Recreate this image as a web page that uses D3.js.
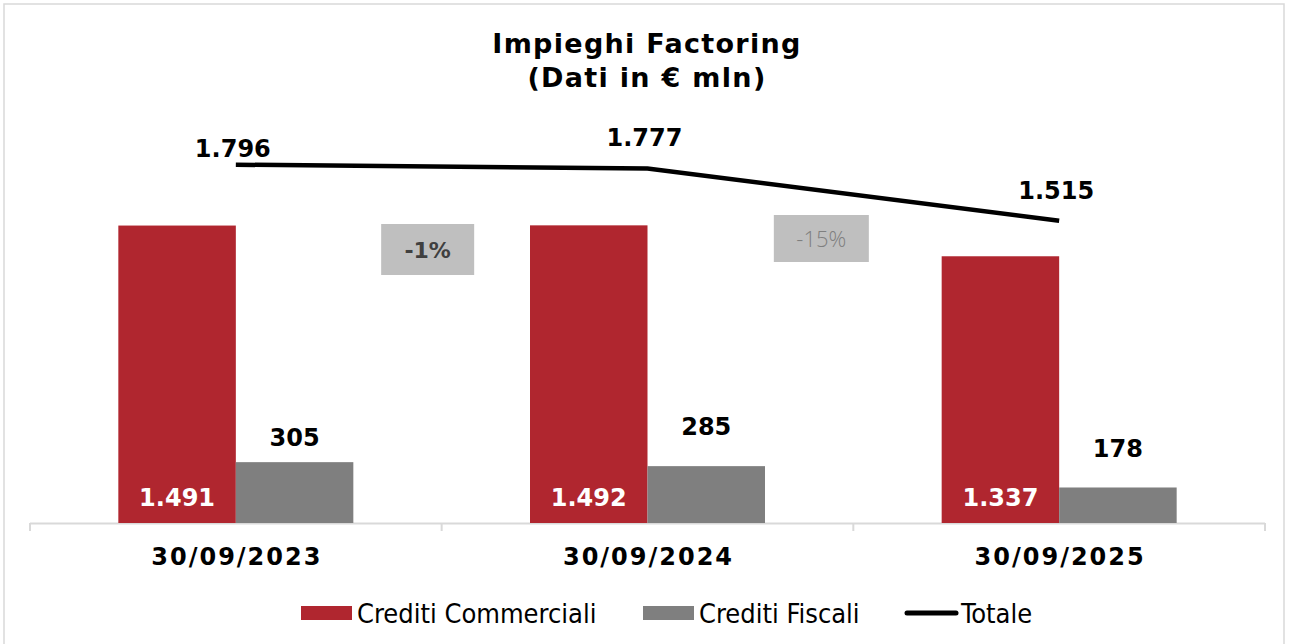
<!DOCTYPE html>
<meta charset="utf-8">
<style>
body { margin: 0; background: #fff; }
text { font-family: "DejaVu Sans", Verdana, sans-serif; }
.lbl { font-weight: bold; font-size: 24px; text-anchor: middle; }
.legend text { font-family: "DejaVu Sans Condensed", "DejaVu Sans", sans-serif; font-size: 27px; }
</style>
<svg width="1290" height="644"></svg>
<script src="https://d3js.org/d3.v7.min.js"></script>
<script>

var categories = ["30/09/2023", "30/09/2024", "30/09/2025"];
var commerciali = [1491, 1492, 1337];
var fiscali = [305, 285, 178];
var totale = [1796, 1777, 1515];
var changes = ["-1%", "-15%"];
// label offsets above the points (px), as in the original
var totOffset = [17, 31, 31];
var fisOffset = [25, 40, 39];

var fmt = function(v) { return d3.format(",")(v).replace(/,/g, "."); };

var svg = d3.select("svg");

svg.append("rect")
    .attr("x", 4).attr("y", 4).attr("width", 1280).attr("height", 650)
    .attr("fill", "#fff").attr("stroke", "#d9d9d9").attr("stroke-width", 1.5);

var x = d3.scaleBand().domain(categories).range([30, 1265]);
var y = d3.scaleLinear().domain([0, 2000]).range([523, 124]);
var barW = 117.5;

var g = svg.append("g");

// axis
g.append("line")
    .attr("x1", 30).attr("x2", 1265).attr("y1", 523.5).attr("y2", 523.5)
    .attr("stroke", "#d9d9d9").attr("stroke-width", 2);
var ticks = [30, 1265].concat(categories.slice(1).map(function(c) { return x(c); }));
g.selectAll(".tick").data(ticks).enter().append("line")
    .attr("x1", function(d) { return d; }).attr("x2", function(d) { return d; })
    .attr("y1", 523).attr("y2", 531)
    .attr("stroke", "#d9d9d9").attr("stroke-width", 2);

// bars
g.selectAll(".bc").data(commerciali).enter().append("rect")
    .attr("x", function(d, i) { return x(categories[i]) + x.bandwidth() / 2 - barW; })
    .attr("y", function(d) { return y(d); })
    .attr("width", barW)
    .attr("height", function(d) { return y(0) - y(d); })
    .attr("fill", "#b0262f");

g.selectAll(".bf").data(fiscali).enter().append("rect")
    .attr("x", function(d, i) { return x(categories[i]) + x.bandwidth() / 2; })
    .attr("y", function(d) { return y(d); })
    .attr("width", barW)
    .attr("height", function(d) { return y(0) - y(d); })
    .attr("fill", "#7f7f7f");

// bar labels
g.selectAll(".lc").data(commerciali).enter().append("text")
    .attr("class", "lbl")
    .attr("x", function(d, i) { return x(categories[i]) + x.bandwidth() / 2 - barW / 2; })
    .attr("y", 506)
    .attr("fill", "#fff")
    .text(fmt);

g.selectAll(".lf").data(fiscali).enter().append("text")
    .attr("class", "lbl")
    .attr("x", function(d, i) { return x(categories[i]) + x.bandwidth() / 2 + barW / 2; })
    .attr("y", function(d, i) { return y(d) - fisOffset[i] + 9; })
    .attr("fill", "#000")
    .text(fmt);

// totale line
var line = d3.line()
    .x(function(d, i) { return x(categories[i]) + x.bandwidth() / 2; })
    .y(function(d) { return y(d); });
g.append("path").datum(totale)
    .attr("d", line)
    .attr("fill", "none").attr("stroke", "#000").attr("stroke-width", 4.5);

g.selectAll(".lt").data(totale).enter().append("text")
    .attr("class", "lbl")
    .attr("x", function(d, i) { return x(categories[i]) + x.bandwidth() / 2 - 3; })
    .attr("y", function(d, i) { return y(d) - totOffset[i] + 9; })
    .attr("fill", "#000")
    .text(fmt);

// change boxes
var boxes = [
  {cx: x(categories[1]) - 14, cy: 249.5, w: 93, h: 51, bold: true},
  {cx: x(categories[2]) - 32, cy: 238.5, w: 95, h: 47, bold: false}
];
var bx = g.selectAll(".box").data(changes).enter().append("g");
bx.append("rect")
    .attr("x", function(d, i) { return boxes[i].cx - boxes[i].w / 2; })
    .attr("y", function(d, i) { return boxes[i].cy - boxes[i].h / 2; })
    .attr("width", function(d, i) { return boxes[i].w; })
    .attr("height", function(d, i) { return boxes[i].h; })
    .attr("fill", "#bfbfbf");
bx.append("text")
    .attr("x", function(d, i) { return boxes[i].cx; })
    .attr("y", function(d, i) { return boxes[i].cy + 8; })
    .attr("text-anchor", "middle")
    .style("font-family", function(d, i) { return boxes[i].bold ? "DejaVu Sans" : "Open Sans"; })
    .style("font-weight", function(d, i) { return boxes[i].bold ? "bold" : 300; })
    .style("font-size", "22px")
    .attr("fill", function(d, i) { return boxes[i].bold ? "#404040" : "#7f7f7f"; })
    .text(function(d) { return d; });

// category labels
g.selectAll(".cat").data(categories).enter().append("text")
    .attr("class", "lbl")
    .attr("x", function(d) { return x(d) + x.bandwidth() / 2 + 1; })
    .attr("y", 565)
    .style("letter-spacing", "2px")
    .text(function(d) { return d; });

// title
var title = svg.append("text")
    .attr("text-anchor", "middle")
    .style("font-weight", "bold").style("font-size", "27px")
    .style("letter-spacing", "1.3px");
title.append("tspan").attr("x", 647).attr("y", 53).text("Impieghi Factoring");
title.append("tspan").attr("x", 647).attr("y", 87).text("(Dati in € mln)");

// legend
var legend = svg.append("g").attr("class", "legend");
var items = [
  {name: "Crediti Commerciali", color: "#b0262f", type: "rect", x: 301},
  {name: "Crediti Fiscali", color: "#7f7f7f", type: "rect", x: 643},
  {name: "Totale", color: "#000", type: "line", x: 905}
];
var li = legend.selectAll("g").data(items).enter().append("g")
    .attr("transform", function(d) { return "translate(" + d.x + ",613)"; });
li.filter(function(d) { return d.type === "rect"; }).append("rect")
    .attr("x", 0).attr("y", -7).attr("width", 51).attr("height", 14)
    .attr("fill", function(d) { return d.color; });
li.filter(function(d) { return d.type === "line"; }).append("line")
    .attr("x1", 2).attr("x2", 51).attr("y1", 0).attr("y2", 0)
    .attr("stroke", "#000").attr("stroke-width", 5).attr("stroke-linecap", "round");
li.append("text")
    .attr("x", 56).attr("y", 10)
    .text(function(d) { return d.name; });

</script>
